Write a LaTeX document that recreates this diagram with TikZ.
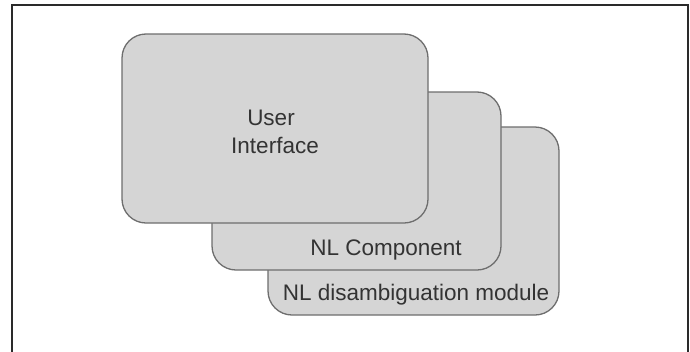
\documentclass[tikz,border=0pt]{standalone}
\usepackage{fontspec}
\setmainfont{Liberation Sans}
\definecolor{boxfill}{HTML}{D5D5D5}
\definecolor{boxline}{HTML}{6E6E6E}
\definecolor{frameline}{HTML}{2A2A2A}
\begin{document}
\begin{tikzpicture}[x=1pt,y=-1pt,
  card/.style={draw=boxline,fill=boxfill,line width=1.3pt,rounded corners=24pt,
    rectangle,inner sep=0pt},
  lbl/.style={anchor=base,inner sep=0pt,font=\fontsize{22.5}{27}\selectfont,text=black!80}]
\useasboundingbox (0,0) rectangle (690,351);
\fill[white] (0,0) rectangle (690,351);
\coordinate (fbl) at (12,352);
\coordinate (ftl) at (12,5);
\coordinate (ftr) at (688,5);
\coordinate (fbr) at (688,352);
\draw[frameline,line width=2.2pt] (fbl) -- (ftl) -- (ftr) -- (fbr);
\node[card,minimum width=291pt,minimum height=188pt] (nld) at (413.5,221) {};
\node[card,minimum width=289pt,minimum height=178pt] (nlc) at (356.5,181) {};
\node[card,minimum width=306pt,minimum height=189pt] (ui) at (275,128.5) {};
\node[lbl] (t1) at (271,125) {User};
\node[lbl] (t2) at (275,153) {Interface};
\node[lbl] (t3) at (386,255) {NL Component};
\node[lbl] (t4) at (416,300) {NL disambiguation module};
\end{tikzpicture}
\end{document}
